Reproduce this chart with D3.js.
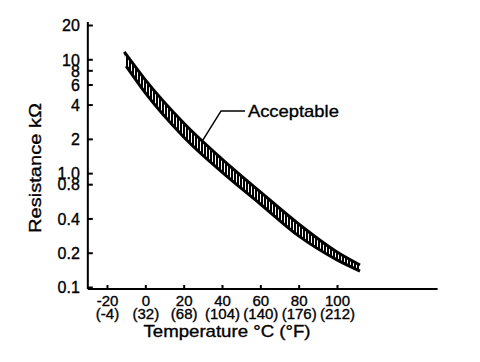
<!DOCTYPE html>
<html>
<head>
<meta charset="utf-8">
<script src="https://cdn.jsdelivr.net/npm/d3@7"></script>
<style>
  body { margin: 0; background: #fff; }
  svg text { font-family: "Liberation Sans", Arial, sans-serif; fill: #000; stroke: #000; stroke-width: 0.35px; }
</style>
</head>
<body>
<svg id="chart" width="480" height="362"></svg>
<script>
// tick values and labels
var tempTicks = [-20, 0, 20, 40, 60, 80, 100]
var fahrLabels = ["(-4)", "(32)", "(68)", "(104)", "(140)", "(176)", "(212)"]
var resTicks = [20, 10, 8, 6, 4, 2, 1.0, 0.8, 0.4, 0.2, 0.1]
var resLabels = ["20", "10", "8", "6", "4", "2", "1.0", "0.8", "0.4", "0.2", "0.1"]

// acceptable band, upper and lower limits
var upperTemp = [-11, 0, 20, 40, 60, 80, 100, 112]
var upperRes = [11.6, 6.6, 2.76, 1.33, 0.684, 0.358, 0.203, 0.156]
var lowerTemp = [-10, 0, 20, 40, 60, 80, 100, 112]
var lowerRes = [8.7, 5.06, 2.08, 1.02, 0.536, 0.281, 0.173, 0.138]

var svg = d3.select("#chart")

var x = d3.scaleLinear().domain([-20, 100]).range([107, 337])
var y = d3.scaleLog().domain([0.1, 20]).range([287, 25])

// hatch pattern
svg.append("defs").append("pattern")
    .attr("id", "hatch")
    .attr("patternUnits", "userSpaceOnUse")
    .attr("width", 3)
    .attr("height", 3)
    .append("rect")
    .attr("x", 0).attr("y", 0)
    .attr("width", 2).attr("height", 3)
    .attr("fill", "#000")

// axes lines
svg.append("line")
    .attr("x1", x(-30)).attr("x2", x(-30))
    .attr("y1", 22).attr("y2", 289)
    .attr("stroke", "#000").attr("stroke-width", 2)
svg.append("line")
    .attr("x1", x(-30)).attr("x2", x(152.5))
    .attr("y1", 289).attr("y2", 289)
    .attr("stroke", "#000").attr("stroke-width", 2)

// y ticks
var yAxis = d3.axisLeft(y)
    .tickValues(resTicks)
    .tickSize(-5)
    .tickFormat(function (d, i) { return resLabels[i] })
var gy = svg.append("g")
    .attr("transform", "translate(" + x(-30) + ",0)")
    .call(yAxis)
gy.select(".domain").remove()
gy.selectAll(".tick line").attr("stroke-width", 2)
gy.selectAll(".tick text")
    .attr("x", -8)
    .attr("dy", "0.36em")
    .style("font-size", "16px")
    .style("font-family", "Liberation Sans, Arial, sans-serif")

// x ticks
var xAxis = d3.axisBottom(x)
    .tickValues(tempTicks)
    .tickSize(-4)
    .tickFormat(function (d) { return d })
var gx = svg.append("g")
    .attr("transform", "translate(0,289)")
    .call(xAxis)
gx.select(".domain").remove()
gx.selectAll(".tick line").attr("stroke-width", 2)
gx.selectAll(".tick text")
    .attr("y", 17)
    .attr("dy", 0)
    .style("font-size", "15px")
    .style("font-family", "Liberation Sans, Arial, sans-serif")
gx.selectAll(".tick")
    .append("text")
    .attr("y", 30)
    .attr("fill", "#000")
    .attr("text-anchor", "middle")
    .style("font-size", "15px")
    .style("font-family", "Liberation Sans, Arial, sans-serif")
    .text(function (d, i) { return fahrLabels[i] })

// band
var upperPts = upperTemp.map(function (t, i) { return [x(t), y(upperRes[i])] })
var lowerPts = lowerTemp.map(function (t, i) { return [x(t), y(lowerRes[i])] })
var line = d3.line().curve(d3.curveMonotoneX)

var bandPath = line(upperPts) + "L" + line(lowerPts.slice().reverse()).slice(1) + "Z"
svg.append("path")
    .attr("d", bandPath)
    .attr("fill", "url(#hatch)")

svg.append("path")
    .attr("d", line(upperPts))
    .attr("fill", "none")
    .attr("stroke", "#000")
    .attr("stroke-width", 3)
svg.append("path")
    .attr("d", line(lowerPts))
    .attr("fill", "none")
    .attr("stroke", "#000")
    .attr("stroke-width", 3)

// leader + label
var leader = [[x(30), y(1.95)], [x(39.5), y(3.52)], [x(52), y(3.52)]]
svg.append("path")
    .attr("d", d3.line()(leader))
    .attr("fill", "none")
    .attr("stroke", "#000")
    .attr("stroke-width", 1.5)
svg.append("text")
    .attr("x", x(53.5))
    .attr("y", y(3.52) + 6)
    .style("font-size", "17px")
    .attr("textLength", 91)
    .attr("lengthAdjust", "spacingAndGlyphs")
    .text("Acceptable")

// axis titles
svg.append("text")
    .attr("x", 227)
    .attr("y", 337)
    .attr("text-anchor", "middle")
    .style("font-size", "17px")
    .attr("textLength", 167)
    .attr("lengthAdjust", "spacingAndGlyphs")
    .text("Temperature °C (°F)")

svg.append("text")
    .attr("transform", "translate(41,168) rotate(-90)")
    .attr("text-anchor", "middle")
    .style("font-size", "17px")
    .attr("textLength", 130)
    .attr("lengthAdjust", "spacingAndGlyphs")
    .text("Resistance kΩ")
</script>
</body>
</html>
